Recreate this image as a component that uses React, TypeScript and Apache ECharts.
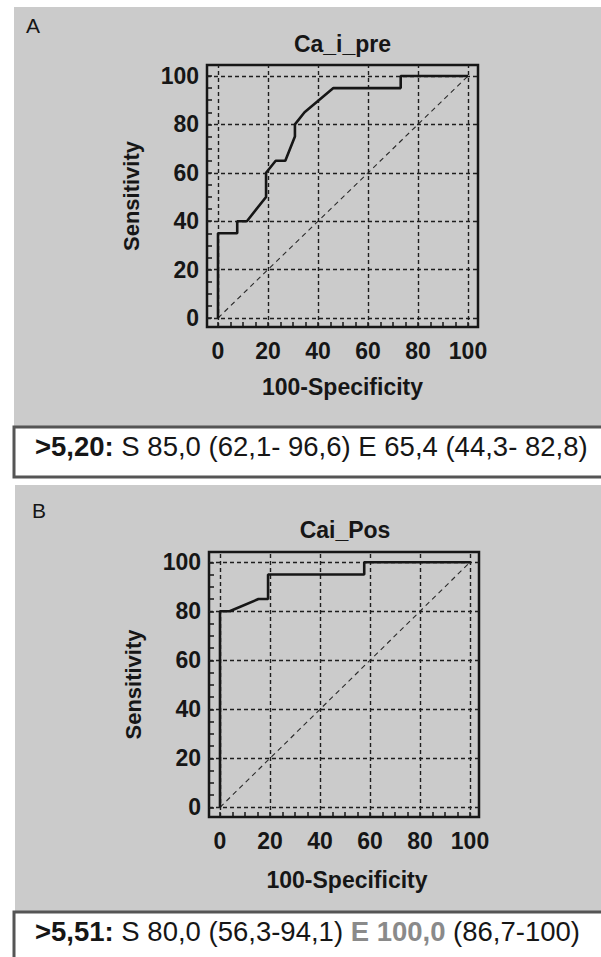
import React, { useEffect, useRef } from "react";
import * as echarts from "echarts";

// ---- data ----
const A_FPR = [0, 0, 7.69, 7.69, 11.54, 19.23, 19.23, 23.08, 26.92, 30.77, 30.77, 34.62, 46.15, 73.08, 73.08, 100];
const A_SENS = [0, 35, 35, 40, 40, 50, 60, 65, 65, 75, 80, 85, 95, 95, 100, 100];
const B_FPR = [0, 0, 3.85, 15.38, 19.23, 19.23, 57.69, 57.69, 100];
const B_SENS = [0, 80, 80, 85, 85, 95, 95, 100, 100];
const DIAG_X = [0, 100];
const DIAG_Y = [0, 100];
const MAJOR_TICKS = [0, 20, 40, 60, 80, 100];
const MINOR_TICKS = [0, 5, 10, 15, 20, 25, 30, 35, 40, 45, 50, 55, 60, 65, 70, 75, 80, 85, 90, 95, 100];

const PANEL_LETTERS = ["A", "B"];
const TITLES = ["Ca_i_pre", "Cai_Pos"];
const X_NAME = "100-Specificity";
const Y_NAME = "Sensitivity";
const CUT_A = ">5,20:";
const REST_A = " S 85,0 (62,1- 96,6) E 65,4 (44,3- 82,8)";
const CUT_B = ">5,51:";
const S_B = " S 80,0 (56,3-94,1) ";
const E_B = "E 100,0";
const CI_B = " (86,7-100)";

const FONT = "Arial, 'Liberation Sans', sans-serif";
const INK = "#161616";
const GRAY_BG = "#cbcbcb";
const BOX_FS = 27.5;

const pairs = (xs: number[], ys: number[]) => xs.map((x, i) => [x, ys[i]]);

export default function App() {
  const ref = useRef<HTMLDivElement>(null);
  useEffect(() => {
    document.body.style.margin = "0";
    if (!ref.current) return;
    const chart = echarts.init(ref.current, null, { renderer: "svg" });

    const grids = [
      { left: 207, top: 65, width: 271, height: 262 },
      { left: 209, top: 552, width: 270, height: 265 },
    ];
    const xRanges = [
      [-4.4, 104],
      [-4.4, 103.6],
    ];
    const yRanges = [
      [-3.72, 104.55],
      [-3.96, 104.2],
    ];

    const mkX = (i: number) => ({
      type: "value",
      gridIndex: i,
      min: xRanges[i][0],
      max: xRanges[i][1],
      axisLine: { show: false, onZero: false },
      splitLine: { show: false },
      axisTick: {
        show: true,
        inside: true,
        length: 5,
        customValues: MINOR_TICKS,
        lineStyle: { color: INK, width: 1.5 },
      },
      axisLabel: {
        customValues: MAJOR_TICKS,
        fontSize: 23,
        fontWeight: "bold",
        fontFamily: FONT,
        color: INK,
        margin: 12,
      },
    });
    const mkY = (i: number) => ({
      type: "value",
      gridIndex: i,
      min: yRanges[i][0],
      max: yRanges[i][1],
      axisLine: { show: false, onZero: false },
      splitLine: { show: false },
      axisTick: {
        show: true,
        inside: true,
        length: 5,
        customValues: MINOR_TICKS,
        lineStyle: { color: INK, width: 1.5 },
      },
      axisLabel: {
        customValues: MAJOR_TICKS,
        fontSize: 23,
        fontWeight: "bold",
        fontFamily: FONT,
        color: INK,
        margin: 8,
      },
    });

    const gridLineSeries = (i: number) => ({
      type: "line",
      xAxisIndex: i,
      yAxisIndex: i,
      data: [],
      silent: true,
      markLine: {
        silent: true,
        symbol: "none",
        label: { show: false },
        lineStyle: { color: "#1e1e1e", width: 1.4, type: [4, 3] },
        emphasis: { disabled: true },
        data: [
          ...MAJOR_TICKS.map((v) => ({ xAxis: v })),
          ...MAJOR_TICKS.map((v) => ({ yAxis: v })),
        ],
      },
    });
    const diagSeries = (i: number) => ({
      type: "line",
      xAxisIndex: i,
      yAxisIndex: i,
      data: pairs(DIAG_X, DIAG_Y),
      showSymbol: false,
      silent: true,
      lineStyle: { color: "#2a2a2a", width: 1.1, type: [5, 4] },
      z: 3,
    });
    const rocSeries = (i: number, xs: number[], ys: number[]) => ({
      type: "line",
      xAxisIndex: i,
      yAxisIndex: i,
      data: pairs(xs, ys),
      showSymbol: false,
      silent: true,
      lineStyle: { color: INK, width: 2.6 },
      z: 5,
    });

    const txt = (x: number, y: number, text: string, size: number, bold: boolean, align = "left", rotation = 0) => ({
      type: "text",
      x,
      y,
      rotation,
      z: 20,
      style: {
        text,
        fontSize: size,
        fontWeight: bold ? "bold" : "normal",
        fontFamily: FONT,
        fill: INK,
        align,
        verticalAlign: "middle",
      },
    });

    chart.setOption({
      animation: false,
      backgroundColor: "#ffffff",
      grid: grids.map((g) => ({
        ...g,
        show: true,
        backgroundColor: "transparent",
        borderColor: INK,
        borderWidth: 2.5,
      })),
      xAxis: [mkX(0), mkX(1)],
      yAxis: [mkY(0), mkY(1)],
      series: [
        gridLineSeries(0),
        diagSeries(0),
        rocSeries(0, A_FPR, A_SENS),
        gridLineSeries(1),
        diagSeries(1),
        rocSeries(1, B_FPR, B_SENS),
      ],
      graphic: [
        // panel backgrounds
        { type: "rect", z: -10, shape: { x: 14, y: 7, width: 600, height: 422 }, style: { fill: GRAY_BG } },
        { type: "rect", z: -10, shape: { x: 15, y: 485, width: 600, height: 430 }, style: { fill: GRAY_BG } },
        // panel letters
        txt(26, 25.5, PANEL_LETTERS[0], 21, false),
        txt(32, 510.5, PANEL_LETTERS[1], 21, false),
        // titles
        txt(342.5, 43.5, TITLES[0], 23, true, "center"),
        txt(345, 529.5, TITLES[1], 23, true, "center"),
        // axis names
        txt(131, 196, Y_NAME, 22, true, "center", Math.PI / 2),
        txt(133, 684.5, Y_NAME, 22, true, "center", Math.PI / 2),
        txt(342.5, 386.5, X_NAME, 23, true, "center"),
        txt(347, 880, X_NAME, 23, true, "center"),
        // result boxes
        {
          type: "rect",
          z: 10,
          shape: { x: 14, y: 427, width: 600, height: 50 },
          style: { fill: "#ffffff", stroke: "#555", lineWidth: 3 },
        },
        {
          type: "rect",
          z: 10,
          shape: { x: 14, y: 912, width: 600, height: 70 },
          style: { fill: "#ffffff", stroke: "#555", lineWidth: 3 },
        },
        {
          type: "text",
          x: 35,
          y: 446,
          z: 20,
          style: {
            text: "{b|" + CUT_A + "}{r|" + REST_A + "}",
            fontSize: BOX_FS,
            fontFamily: FONT,
            fill: INK,
            verticalAlign: "middle",
            rich: {
              b: { fontSize: BOX_FS, fontWeight: "bold", fontFamily: FONT, fill: INK },
              r: { fontSize: BOX_FS, fontFamily: FONT, fill: INK },
            },
          },
        },
        {
          type: "text",
          x: 35,
          y: 931,
          z: 20,
          style: {
            text: "{b|" + CUT_B + "}{r|" + S_B + "}{g|" + E_B + "}{r|" + CI_B + "}",
            fontSize: BOX_FS,
            fontFamily: FONT,
            fill: INK,
            verticalAlign: "middle",
            rich: {
              b: { fontSize: BOX_FS, fontWeight: "bold", fontFamily: FONT, fill: INK },
              r: { fontSize: BOX_FS, fontFamily: FONT, fill: INK },
              g: { fontSize: BOX_FS, fontWeight: "bold", fontFamily: FONT, fill: "#8a8a8a" },
            },
          },
        },
      ],
    });
    return () => chart.dispose();
  }, []);
  return (
    <div
      ref={ref}
      style={{ position: "absolute", left: 0, top: 0, width: 601, height: 957, overflow: "hidden" }}
    />
  );
}
